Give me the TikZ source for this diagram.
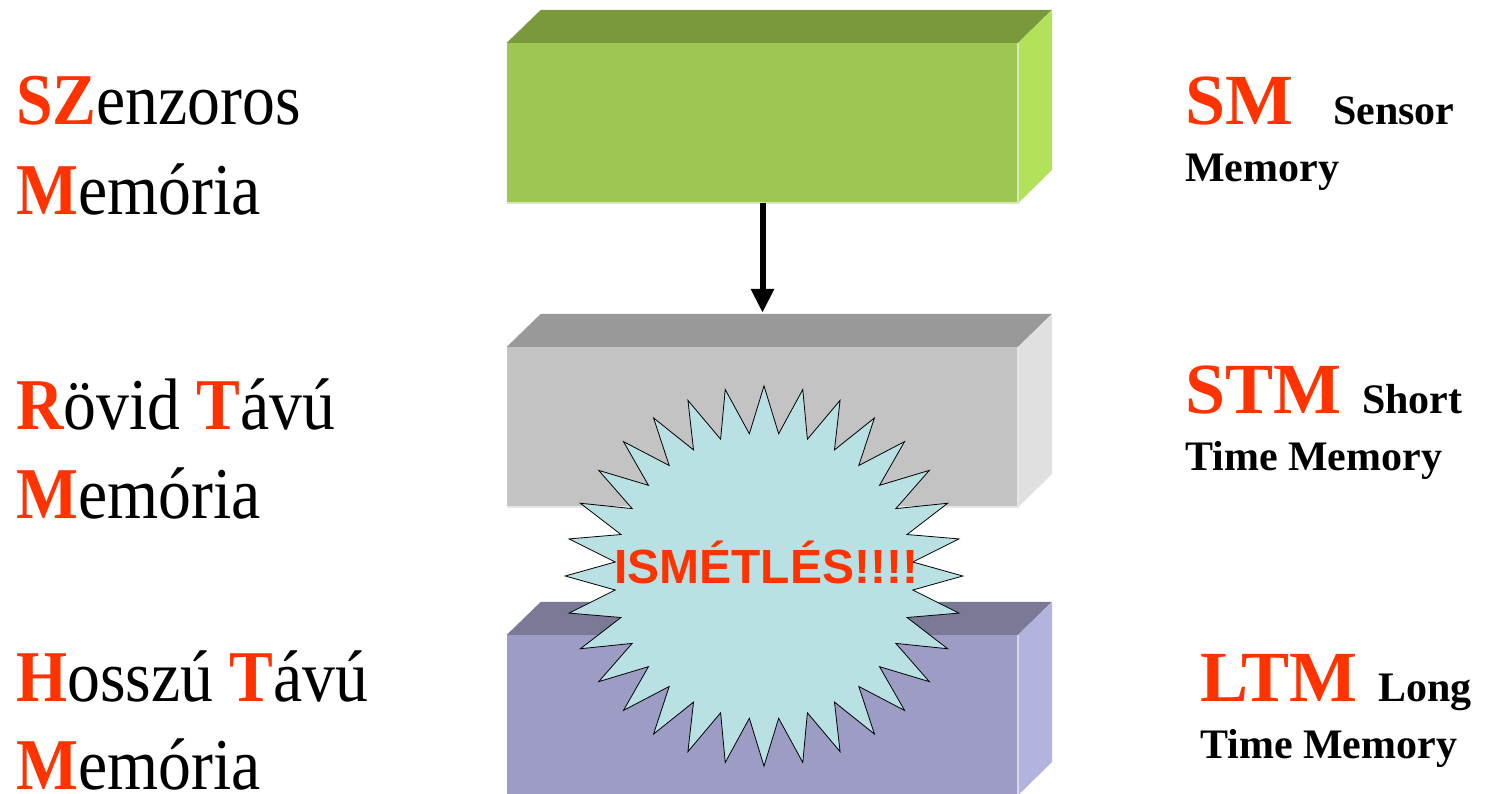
\documentclass[tikz,border=0pt]{standalone}
\usepackage{fontspec}
\setmainfont{Liberation Serif}
\newfontfamily\narrowserif[FakeStretch=0.9]{Liberation Serif}
\newfontfamily\arialfont{Liberation Sans}
\usetikzlibrary{shapes,arrows.meta,positioning}

\definecolor{memred}{HTML}{FF3300}
\definecolor{smfront}{HTML}{9EC653}
\definecolor{smtop}{HTML}{7A983C}
\definecolor{smside}{HTML}{B2E15A}
\definecolor{stmfront}{HTML}{C3C3C3}
\definecolor{stmtop}{HTML}{999999}
\definecolor{stmside}{HTML}{E0E0E0}
\definecolor{ltmfront}{HTML}{9C9CC4}
\definecolor{ltmtop}{HTML}{7A7A97}
\definecolor{ltmside}{HTML}{B3B3DF}
\definecolor{burstfill}{HTML}{B9E0E3}

\newcommand{\ini}[1]{{\bfseries\color{memred}#1}}
\newcommand{\bigabbr}[1]{{\fontsize{72}{80}\selectfont\color{memred}#1}}

\tikzset{
  front/.style={minimum width=511pt, minimum height=160pt, inner sep=0pt},
  rim/.style={line width=1.5pt},
  leftlbl/.style={anchor=base west, inner sep=0pt, font=\narrowserif\fontsize{73}{80}\selectfont},
  rightlbl/.style={anchor=base west, inner sep=0pt, font=\bfseries\fontsize{42}{48}\selectfont},
  flow/.style={line width=6pt, -{Triangle[length=24pt,width=22pt]}},
  burst/.style={star, star points=32, star point ratio=1.33, minimum size=386pt,
    inner sep=0pt, fill=burstfill, draw=black, line width=0.8pt},
  reptext/.style={anchor=base, inner sep=0pt, text=memred,
    font=\arialfont\bfseries\fontsize{48}{50}\selectfont}
}

\begin{document}
\begin{tikzpicture}[x=1pt,y=-1pt]
\useasboundingbox (0,0) rectangle (1488,794);

% SM box (top)
\node[front, fill=smfront] (sm) at (762.5,123) {};
\fill[smtop] (sm.north west) -- ++(34,-33) -- ++(511,0) -- (sm.north east) -- cycle;
\fill[smside] (sm.north east) -- ++(34,-33) -- ++(0,160) -- (sm.south east) -- cycle;
\draw[rim, white!60!smfront] (sm.north east) -- (sm.south east) -- (sm.south west);

% STM box (middle)
\node[front, fill=stmfront] (stm) at (762.5,427) {};
\fill[stmtop] (stm.north west) -- ++(34,-33) -- ++(511,0) -- (stm.north east) -- cycle;
\fill[stmside] (stm.north east) -- ++(34,-33) -- ++(0,160) -- (stm.south east) -- cycle;
\draw[rim, white!60!stmfront] (stm.north east) -- (stm.south east) -- (stm.south west);

% LTM box (bottom, cut by the page)
\node[front, fill=ltmfront] (ltm) at (762.5,715) {};
\fill[ltmtop] (ltm.north west) -- ++(34,-33) -- ++(511,0) -- (ltm.north east) -- cycle;
\fill[ltmside] (ltm.north east) -- ++(34,-33) -- ++(0,160) -- (ltm.south east) -- cycle;
\draw[rim, white!60!ltmfront] (ltm.north east) -- (ltm.south east);

% arrow SM -> STM
\draw[flow] (sm.south) -- ([yshift=34pt]stm.north);

% repetition burst
\begin{scope}[shift={(764,576)}]
\node[burst, xscale=1.03, yscale=0.985, transform shape] (rep) at (0,0) {};
\end{scope}
\node[reptext] (reptxt) at ([xshift=2pt,yshift=-7pt]rep.center) {ISMÉTLÉS!!!!};

% left labels
\node[leftlbl] (sza) at (16,125) {\ini{SZ}enzoros};
\node[leftlbl] (szb) at (16,215) {\ini{M}emória};
\node[leftlbl] (rta) at (16,429) {\ini{R}övid \ini{T}ávú};
\node[leftlbl] (rtb) at (16,518) {\ini{M}emória};
\node[leftlbl] (hta) at (16,701) {\ini{H}osszú \ini{T}ávú};
\node[leftlbl] (htb) at (16,789) {\ini{M}emória};

% right labels
\node[rightlbl] (sma) at (1185,125) {\bigabbr{SM}\hspace{40pt}Sensor};
\node[rightlbl] (smb) at (1185,182) {Memory};
\node[rightlbl] (stma) at (1185,413) {\bigabbr{STM}\hspace{21pt}Short};
\node[rightlbl] (stmb) at (1185,470) {Time Memory};
\node[rightlbl] (ltma) at (1200,701) {\bigabbr{LTM}\hspace{21pt}Long};
\node[rightlbl] (ltmb) at (1200,758) {Time Memory};
\end{tikzpicture}
\end{document}
